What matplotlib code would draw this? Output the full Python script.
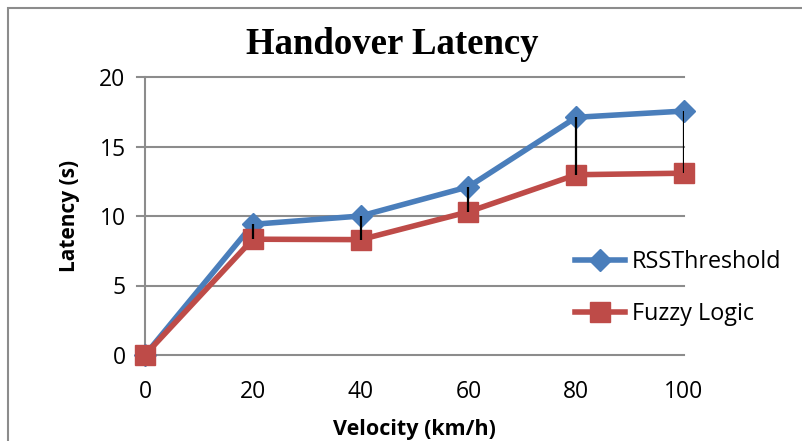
import matplotlib.pyplot as plt
from matplotlib.patches import Rectangle

# data
velocity = [0, 20, 40, 60, 80, 100]
rss_threshold = [0, 9.4, 10.0, 12.1, 17.1, 17.55]
fuzzy_logic = [0, 8.33, 8.3, 10.3, 12.97, 13.08]
yticks = [0, 5, 10, 15, 20]

fig = plt.figure(figsize=(8.02, 4.41), dpi=100)
ax = fig.add_axes([145 / 802, 1 - 355 / 441, (684 - 145) / 802, (355 - 77) / 441])

# outer chart border
fig.patches.append(Rectangle((8 / 802, -0.1), 1.2, 1 - 8 / 441 + 0.1,
                             transform=fig.transFigure, fill=False,
                             edgecolor='#8c8c8c', linewidth=1.5))

ax.set_ylim(0, 20)
ax.set_xlim(0, 100)
for y in yticks:
    ax.axhline(y, xmin=-8 / 539, xmax=1, color='#8c8c8c', linewidth=1.5,
               clip_on=False, zorder=1)

ax.plot(velocity, rss_threshold, color='#4A7EBB', linewidth=4, marker='D',
        markersize=11, label='RSSThreshold', zorder=3, clip_on=False)
ax.plot(velocity, fuzzy_logic, color='#BE4B48', linewidth=4, marker='s',
        markersize=14, label='Fuzzy Logic', zorder=3, clip_on=False)

# high-low lines between the two series
ax.vlines(velocity, fuzzy_logic, rss_threshold, color='black', linewidth=1.6, zorder=4)

for s in ['top', 'right', 'bottom']:
    ax.spines[s].set_visible(False)
ax.spines['left'].set_color('#8c8c8c')
ax.spines['left'].set_linewidth(1.5)

ax.set_xticks(velocity)
ax.set_yticks(yticks)
ax.tick_params(axis='x', length=0, pad=18, labelsize=16.5)
ax.tick_params(axis='y', length=0, pad=14, labelsize=16.5)
for lbl in ax.get_xticklabels() + ax.get_yticklabels():
    lbl.set_family('Open Sans')

ax.set_xlabel('Velocity (km/h)', fontsize=15.5, fontweight='bold', family='Open Sans', labelpad=11)
ax.set_ylabel('Latency (s)', fontsize=15, fontweight='bold', family='Open Sans', labelpad=14)

fig.text(392 / 802, 1 - 45 / 441, 'Handover Latency', ha='center', va='center',
         fontsize=26.5, fontweight='bold', family='Liberation Serif')

leg = fig.legend(loc='upper left', bbox_to_anchor=(575 / 802, 1 - 250 / 441),
                 frameon=False, prop={'family': 'Open Sans', 'size': 16.8},
                 handlelength=2.15, handletextpad=0.3, labelspacing=1.2,
                 borderpad=0, borderaxespad=0)

fig.savefig('out.png', dpi=100)
